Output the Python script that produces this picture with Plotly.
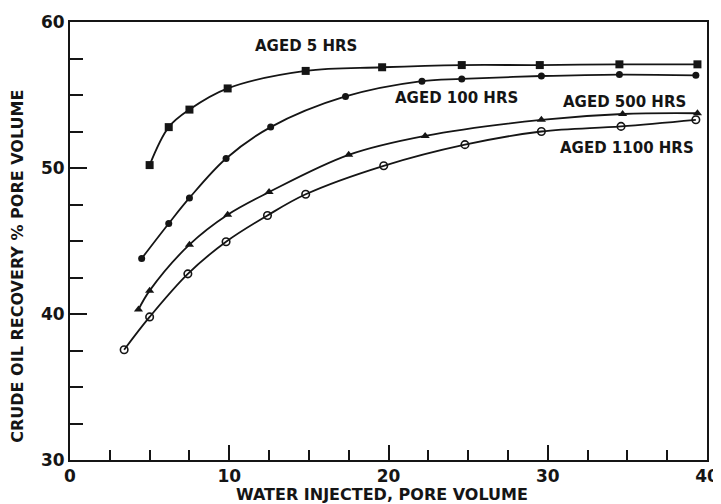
import plotly.graph_objects as go

# Data
x_5 = [5.0, 6.2, 7.5, 9.9, 14.8, 19.6, 24.6, 29.5, 34.5, 39.4]
y_5 = [50.2, 52.8, 54.0, 55.45, 56.65, 56.9, 57.05, 57.05, 57.1, 57.1]

x_100 = [4.5, 6.2, 7.5, 9.8, 12.6, 17.3, 22.1, 24.6, 29.6, 34.5, 39.3]
y_100 = [43.8, 46.2, 47.95, 50.65, 52.8, 54.9, 55.95, 56.1, 56.3, 56.4, 56.35]

x_500 = [4.3, 5.0, 7.5, 9.9, 12.5, 17.5, 22.3, 29.6, 34.7, 39.4]
y_500 = [40.3, 41.6, 44.75, 46.8, 48.35, 50.9, 52.2, 53.3, 53.7, 53.75]

x_1100 = [3.4, 5.0, 7.4, 9.8, 12.4, 14.8, 19.7, 24.8, 29.6, 34.6, 39.3]
y_1100 = [37.55, 39.8, 42.75, 44.95, 46.75, 48.2, 50.15, 51.6, 52.5, 52.85, 53.3]

labels = ["AGED 5 HRS", "AGED 100 HRS", "AGED 500 HRS", "AGED 1100 HRS"]
label_x = [14.8, 24.3, 34.8, 35.0]
label_y = [58.35, 54.8, 54.55, 51.4]

x_ticks = [0, 10, 20, 30, 40]
y_ticks = [30, 40, 50, 60]

INK = "#151515"
FONT = "DejaVu Sans, Liberation Sans, Arial, sans-serif"

fig = go.Figure()
series = [
    (x_5, y_5, dict(symbol="square", size=8, color=INK)),
    (x_100, y_100, dict(symbol="circle", size=7, color=INK)),
    (x_500, y_500, dict(symbol="triangle-up", size=8, color=INK)),
    (x_1100, y_1100, dict(symbol="circle-open", size=7.5, color=INK, line=dict(width=1.6, color=INK))),
]
for xs, ys, mk in series:
    fig.add_trace(go.Scatter(
        x=xs, y=ys, mode="lines+markers",
        line=dict(color=INK, width=1.8, shape="spline", smoothing=1.0),
        marker=mk, showlegend=False, hoverinfo="skip",
    ))

for t, lx, ly in zip(labels, label_x, label_y):
    fig.add_annotation(x=lx, y=ly, text="<b>%s</b>" % t, showarrow=False,
                       font=dict(family=FONT, size=15, color=INK),
                       xanchor="center", yanchor="middle")

fig.add_annotation(xref="paper", yref="paper", x=0.49, y=-0.078,
                   text="<b>WATER INJECTED, PORE VOLUME</b>", showarrow=False,
                   font=dict(family=FONT, size=16, color=INK),
                   xanchor="center", yanchor="middle")
fig.add_annotation(xref="paper", yref="paper", x=-0.082, y=0.443,
                   text="<b>CRUDE OIL RECOVERY % PORE VOLUME</b>", showarrow=False,
                   textangle=-90,
                   font=dict(family=FONT, size=16, color=INK),
                   xanchor="center", yanchor="middle")

fig.update_xaxes(
    range=[0, 40], tickvals=x_ticks, ticktext=["<b>%d</b>" % v for v in x_ticks],
    ticks="inside", ticklen=15, tickwidth=1.5, tickcolor=INK,
    minor=dict(dtick=2.5, tick0=0, ticks="inside", ticklen=10, tickwidth=1.5, tickcolor=INK),
    showline=True, linewidth=2, linecolor=INK, mirror=True,
    showgrid=False, zeroline=False, automargin=False,
    tickfont=dict(family=FONT, size=17, color=INK),
)
fig.update_yaxes(
    range=[30, 60], tickvals=y_ticks, ticktext=["<b>%d</b>" % v for v in y_ticks],
    ticks="inside", ticklen=17, tickwidth=1.5, tickcolor=INK,
    minor=dict(dtick=2.5, tick0=0, ticks="inside", ticklen=13, tickwidth=1.5, tickcolor=INK),
    showline=True, linewidth=2, linecolor=INK, mirror=True,
    showgrid=False, zeroline=False, automargin=False,
    tickfont=dict(family=FONT, size=17, color=INK),
)

# The page body adds an 8px offset, so the figure is sized/positioned to compensate
fig.update_layout(
    width=713, height=496,
    margin=dict(l=62, r=14, t=14, b=44),
    paper_bgcolor="white", plot_bgcolor="white",
    font=dict(family=FONT, color=INK),
)

fig.write_html("out.html")
